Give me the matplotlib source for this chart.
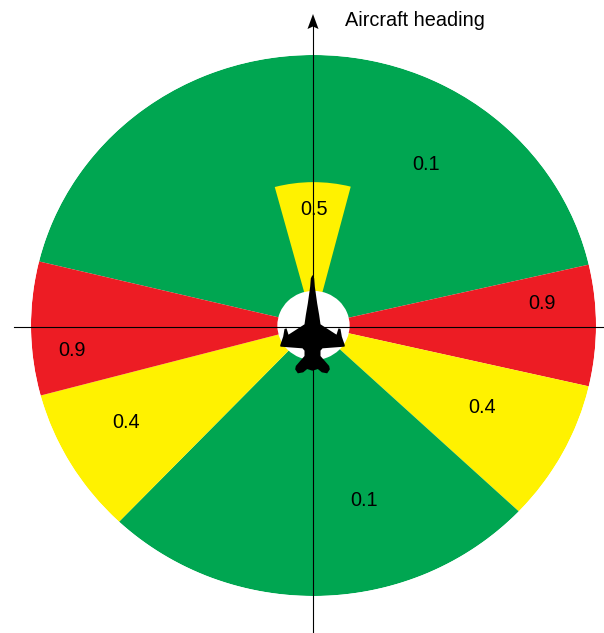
import numpy as np
import matplotlib
matplotlib.use("Agg")
import matplotlib.pyplot as plt
from matplotlib.patches import Polygon

plt.rcParams['font.family'] = ['Liberation Sans', 'DejaVu Sans']

# sector edges, degrees clockwise from aircraft heading (later sectors draw on top)
sector_start = [-76.3, 77, 103, 133.4, 223.5, 255, -15]
sector_end = [77, 103, 133.4, 223.5, 255, 283.7, 14.4]
sector_risk = [0.1, 0.9, 0.4, 0.1, 0.4, 0.9, 0.5]
sector_radius = [1, 1, 1, 1, 1, 1, 0.53]
risk_colors = {0.1: '#00A651', 0.4: '#FFF200', 0.5: '#FFF200', 0.9: '#ED1C24'}

W, H = 604, 633
fig = plt.figure(figsize=(W / 100, H / 100), dpi=100)

L, R, T, B = 31, 596, 55, 596
ax = fig.add_axes([L / W, 1 - B / H, (R - L) / W, (B - T) / H], projection='polar')
ax.set_aspect('auto')
ax.set_theta_zero_location('N')
ax.set_theta_direction(-1)
ax.set_ylim(0, 1)
ax.axis('off')
for a, b, v, r in zip(sector_start, sector_end, sector_risk, sector_radius):
    mid, wid = np.radians((a + b) / 2), np.radians(b - a)
    ax.bar(mid, r, width=wid, bottom=0, color=risk_colors[v], linewidth=0)
ax.bar(np.pi, 0.128, width=2 * np.pi, bottom=0, color='white', linewidth=0, zorder=3)

ov = fig.add_axes([0, 0, 1, 1])
ov.set_xlim(0, W)
ov.set_ylim(H, 0)
ov.axis('off')
ov.patch.set_alpha(0)

cx, cy = 313, 327
ov.plot([14, 604], [cy, cy], color='black', lw=0.8)
ov.plot([cx, cx], [24, 633], color='black', lw=0.8)
ov.add_patch(Polygon([[cx, 14], [cx + 5.5, 29], [cx, 26.5], [cx - 5.5, 29]], closed=True, fc='black', ec='none'))

half = [(0, 45), (5, 55), (7, 80), (14, 130), (20, 165), (24, 193),
        (72, 224), (78, 205), (84, 207), (88, 230), (97, 256), (96, 260),
        (30, 265), (24, 272), (24, 288), (50, 318), (52, 328), (44, 340),
        (28, 337), (16, 327), (4, 331), (0, 332)]
half = np.array(half, float)
pts = np.vstack([half, (half * [-1, 1])[::-1]])
px = np.column_stack([312.5 + pts[:, 0] / 3, 260 + pts[:, 1] / 3])
ov.add_patch(Polygon(px, closed=True, fc='black', ec='none', zorder=5))

fs = 14.3
ov.text(415, 20.5, 'Aircraft heading', ha='center', va='center', fontsize=fs)
labels = [(426, 164.5, '0.1'), (314, 209.5, '0.5'), (542, 303.5, '0.9'), (72, 350.5, '0.9'),
          (482, 407.5, '0.4'), (126, 422.5, '0.4'), (364, 500.5, '0.1')]
for x, y, s in labels:
    ov.text(x, y, s, ha='center', va='center', fontsize=fs)

fig.savefig('out.png', dpi=100)
